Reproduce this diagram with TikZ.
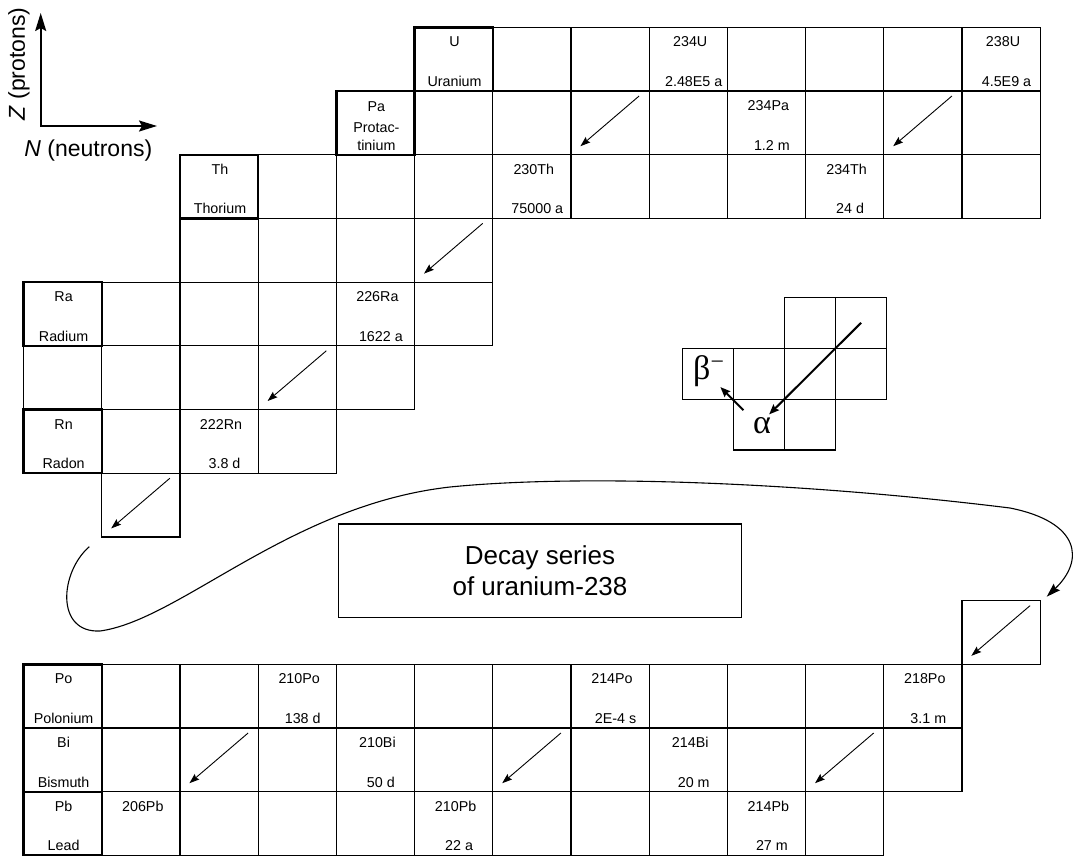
\documentclass[tikz,border=0pt]{standalone}
\usepackage{fontspec}
\setmainfont{Liberation Sans}
\newfontfamily\grk{Liberation Serif}
\usetikzlibrary{arrows.meta,calc}
\begin{document}
\begin{tikzpicture}[x=1pt,y=-1pt,
  cellbox/.style={draw, line width=1.2pt, rectangle, minimum width=78.2pt, minimum height=63.7pt, inner sep=0pt, outer sep=0pt},
  lcell/.style={draw, line width=1.2pt, rectangle, minimum width=51.1pt, minimum height=50.9pt, inner sep=0pt, outer sep=0pt},
  lbl/.style={font=\fontsize{14.3}{17}\selectfont, anchor=base, inner sep=0pt},
  darr/.style={line width=0.9pt, -{Stealth[length=10pt,width=7pt,inset=1.5pt]}},
  thickarr/.style={line width=2pt, -{Stealth[length=10pt,width=8pt,inset=1.5pt]}},
  axarr/.style={line width=2pt, {Stealth[length=18pt,width=11pt,inset=3pt]}-{Stealth[length=18pt,width=11pt,inset=3pt]}},
  grklbl/.style={font=\grk\fontsize{34}{36}\selectfont, inner sep=0pt}
]
\useasboundingbox (0,0) rectangle (1082,855);

% grid cells
\foreach \r/\a/\b in {0/5/12, 1/4/12, 2/2/12, 3/2/5, 4/0/5, 5/0/4, 6/0/3, 7/1/1, 9/12/12, 10/0/11, 11/0/11, 12/0/10}{
  \foreach \c in {\a,...,\b}{
    \node[cellbox] (n-\r-\c) at ({62.6+78.2*\c},{59.15+63.7*\r}) {};
  }
}
% element cells (thick border)
\foreach \r/\c in {0/5, 1/4, 2/2, 4/0, 6/0, 10/0, 11/0, 12/0}{
  \draw[line width=2.4pt] (n-\r-\c.south west) rectangle (n-\r-\c.north east);
}

% labels
\foreach \r/\c/\t/\b/\dt/\db in {
  0/5/U/Uranium/1/1, 0/8/234U/2.48E5 a/2/5.5, 0/12/238U/4.5E9 a/2/5.5,
  1/9/234Pa/1.2 m/2/5.5,
  2/2/Th/Thorium/1/1, 2/6/230Th/75000 a/2/5.5, 2/10/234Th/24 d/2/5.5,
  4/0/Ra/Radium/1/1, 4/4/226Ra/1622 a/2/5.5,
  6/0/Rn/Radon/1/1, 6/2/222Rn/3.8 d/2/5.5,
  10/0/Po/Polonium/1/1, 10/3/210Po/138 d/2/5.5, 10/7/214Po/2E-4 s/2/5.5, 10/11/218Po/3.1 m/2/5.5,
  11/0/Bi/Bismuth/1/1, 11/4/210Bi/50 d/2/5.5, 11/8/214Bi/20 m/2/5.5,
  12/0/Pb/Lead/1/1, 12/1/206Pb//2/5.5, 12/5/210Pb/22 a/2/5.5, 12/9/214Pb/27 m/2/5.5}{
  \node[lbl] (t-\r-\c) at ([xshift=\dt pt, yshift=-19.5pt]n-\r-\c.north) {\t};
  \node[lbl] (b-\r-\c) at ([xshift=\db pt, yshift=4.5pt]n-\r-\c.south) {\b};
}
\node[lbl] (t-1-4) at ([xshift=1pt, yshift=-20.5pt]n-1-4.north) {Pa};
\node[lbl] (m-1-4) at ([xshift=1pt, yshift=22pt]n-1-4.south) {Protac-};
\node[lbl] (b-1-4) at ([xshift=1pt, yshift=4.4pt]n-1-4.south) {tinium};

% decay arrows inside cells
\foreach \r/\c in {1/7, 1/11, 3/5, 5/3, 7/1, 9/12, 11/2, 11/6, 11/10}{
  \draw[darr] ([xshift=-10pt,yshift=-5pt]n-\r-\c.north east) -- ([xshift=9.5pt,yshift=8.5pt]n-\r-\c.south west);
}

% axes
\coordinate (origin) at (40.7,126);
\coordinate (ztip) at (40.7,13);
\coordinate (ntip) at (157,126);
\draw[axarr] (ztip) -- (origin) -- (ntip);
\node[font=\fontsize{23}{27}\selectfont, rotate=90, inner sep=0pt] (zlabel) at (19,64) {\textit{Z} (protons)};
\node[font=\fontsize{23}{27}\selectfont, inner sep=0pt] (nlabel) at (88.3,150.5) {\textit{N} (neutrons)};

% legend
\foreach \r/\c in {0/2, 0/3, 1/0, 1/1, 1/2, 1/3, 2/1, 2/2}{
  \node[lcell] (l-\r-\c) at ({707.85+51.1*\c},{322.75+50.9*\r}) {};
}
\draw[thickarr] (l-0-3.center) -- ($(l-0-3.center)!1.2!(l-2-1.north east)$);
\draw[thickarr] ([xshift=10pt,yshift=-11pt]l-2-1.north west) -- ([xshift=-13pt,yshift=12pt]l-1-0.south east);
\node[grklbl] (beta) at ([xshift=1pt,yshift=3pt]l-1-0.center) {β\textsuperscript{−}};
\node[grklbl] (alpha) at ([xshift=3pt,yshift=-1pt]l-2-1.center) {α};

% title
\node[draw, line width=1.2pt, minimum width=403.4pt, minimum height=93.7pt, align=center,
      font=\fontsize{26}{31.5}\selectfont, inner sep=0pt, outer sep=0pt] (title) at (540,570.85) {Decay series\\of uranium-238};

% long connector
\coordinate (cs) at (89.3,546.7);
\coordinate (ce) at (1046.7,596.7);
\draw[line width=1.1pt, -{Stealth[length=14pt,width=9pt,inset=2pt]}] (cs) .. controls (60,572) and (55,633) .. (100,631)
  .. controls (180,620) and (290,505) .. (450,487)
  .. controls (580,474) and (800,482) .. (1010,508)
  .. controls (1080,522) and (1085,560) .. (ce);
\end{tikzpicture}
\end{document}
